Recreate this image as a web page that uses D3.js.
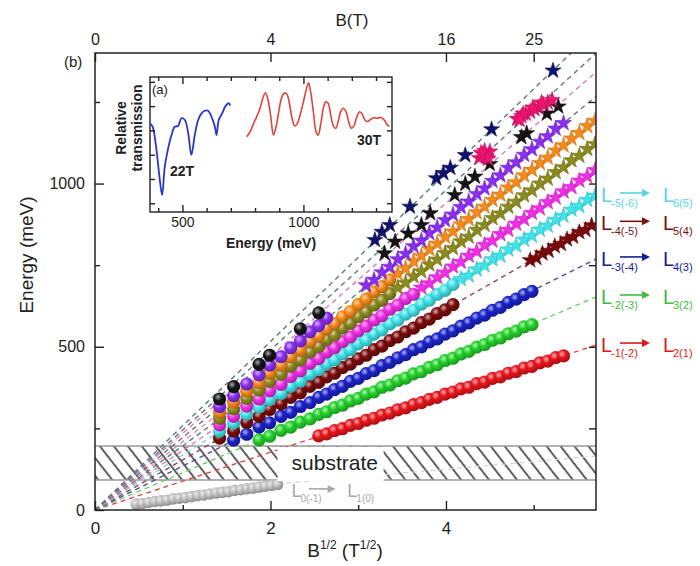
<!DOCTYPE html>
<html>
<head>
<meta charset="utf-8">
<script src="https://cdn.jsdelivr.net/npm/d3@7"></script>
<style>
  body { margin: 0; background: #fff; }
  svg { display: block; font-family: "Liberation Sans", Arial, sans-serif; }
</style>
</head>
<body>
<svg id="chart" width="700" height="566"></svg>
<script>
// ---- data ----
// sqrt(B) columns where the transitions were measured
var fieldX = [1.42, 1.58, 1.73, 1.87, 1.99, 2.12, 2.23, 2.34, 2.45, 2.55, 2.64, 2.73, 2.82, 2.91, 3.00,
  3.09, 3.18, 3.27, 3.36, 3.45, 3.54, 3.63, 3.72, 3.81, 3.90, 3.99, 4.08, 4.17, 4.26, 4.35,
  4.44, 4.53, 4.62, 4.71, 4.80, 4.89, 4.98, 5.07, 5.16, 5.25, 5.34, 5.43, 5.52, 5.61, 5.70];

// fitted slopes of the dashed lines (meV per T^1/2), bottom to top
var lineSlopes = [88.5, 114.3, 134.7, 153.8, 169, 182.4, 196.8, 209.3, 221.9, 235, 245, 258];
var seriesColors = ["#e8141c", "#22d22a", "#1a22c8", "#7a0a0a", "#3fe4ea", "#f02ee6",
  "#8a8a1e", "#f58a1a", "#8a2ef0", "#141414", "#ee1470", "#12126e"];
var lineColors = ["#e04848", "#70cc70", "#4a5298", "#8a4a5a", "#80d8e4", "#e07ab8",
  "#5e7a80", "#e88ab8", "#5e7a80", "#e07ab8", "#5e7a80", "#5e7a80"];

var grayX = [0.47, 0.54, 0.61, 0.68, 0.75, 0.82, 0.89, 0.96, 1.03, 1.10, 1.17, 1.24, 1.31, 1.38,
  1.45, 1.52, 1.59, 1.66, 1.73, 1.80, 1.87, 1.94, 2.01, 2.08];
var grayE = [18, 20, 23, 26, 28, 30, 34, 36, 38, 41, 44, 46, 49, 52, 54, 56, 60, 62, 65, 67, 70, 73, 75, 78];
var grayTail = [[2.08, 80], [5.71, 165]];

var redE = [227, 233, 243, 249, 259, 265, 275, 281, 291, 297, 307, 313, 323, 329, 339, 345, 355, 361,
  371, 376, 387, 392, 403, 408, 419, 424, 435, 440, 451, 456, 467, 472];
var greenE = [215, 226, 244, 254, 269, 279, 293, 301, 314, 321, 334, 342, 355, 362, 376, 383, 396, 404,
  417, 424, 437, 445, 458, 465, 478, 486, 499, 507, 520, 527, 540, 548, 561, 568];
var blueE = [214, 232, 254, 267, 287, 299, 317, 329, 345, 355, 369, 379, 394, 403, 418, 427, 442, 452,
  466, 476, 491, 500, 515, 524, 539, 549, 563, 573, 588, 597, 612, 621, 636, 646, 660, 670];
var maroonE = [220, 242, 268, 287, 308, 325, 345, 359, 379, 391, 408, 419, 436, 447, 463, 474, 491, 502,
  519, 530, 546, 557, 574, 585, 602, 613, 629];
var maroonStarX = [4.96, 5.03, 5.10, 5.17, 5.24, 5.31, 5.38, 5.45, 5.52, 5.59, 5.66];
var maroonStarE = [765, 772, 786, 794, 808, 815, 829, 837, 851, 858, 872];
var cyanE = [242, 266, 294, 315, 338, 357, 379, 394, 416, 430, 448, 460, 478, 491, 509, 521, 539, 552,
  570, 582, 600, 612, 631, 643, 661, 673, 691];
var cyanStarE = [707, 718, 737, 749, 768, 779, 798, 810, 828, 840, 859, 871, 889, 901, 920, 931, 950, 962];
var magentaE = [261, 287, 318, 340, 365, 385, 409, 426, 449, 464, 484, 497, 516, 530, 549, 563, 582, 595,
  615, 628, 648, 661];
var magentaStarE = [681, 694, 713, 727, 746, 760, 779, 792, 812, 825, 845, 858, 877, 891, 910, 924, 943,
  957, 976, 989, 1009, 1022, 1041];
var oliveE = [281, 310, 342, 367, 394, 416, 441, 459, 484, 501, 522, 536, 557, 572, 592, 607, 628, 642, 663];
var oliveStarE = [681, 696, 716, 731, 752, 767, 787, 802, 823, 837, 858, 873, 894, 908, 929, 944, 964, 979,
  1000, 1015, 1035, 1050, 1071, 1085, 1106, 1121];
var orangeE = [299, 330, 364, 390, 419, 443, 469, 489, 515, 533, 555, 571, 592, 608, 630, 646, 668, 684, 705];
var orangeStarE = [724, 740, 762, 778, 799, 816, 837, 853, 875, 891, 912, 929, 950, 966, 988, 1004, 1025,
  1042, 1063, 1079, 1101, 1117, 1138, 1155, 1176, 1192];
var purpleE = [317, 350, 386, 414, 444, 470, 497, 518, 546, 565, 588];
var purpleStarE = [688, 705, 728, 745, 768, 785, 808, 825, 848, 865, 888, 905, 928, 945, 968, 985, 1008,
  1025, 1048, 1065, 1088, 1105, 1128, 1145, 1168, 1185];
var blackX = [1.42, 1.58, 1.87, 1.99, 2.34, 2.55];
var blackE = [340, 378, 446, 474, 555, 604];
var blackStarX = [3.30, 3.42, 3.57, 3.72, 3.82, 4.10, 4.22, 4.33, 4.50, 4.86, 4.92, 5.15, 5.28];
var blackStarE = [786, 822, 847, 873, 909, 965, 999, 1021, 1060, 1142, 1154, 1214, 1236];
var pinkStarX = [4.38, 4.42, 4.46, 4.50, 4.44, 4.48, 4.40, 4.81, 4.86, 4.91, 4.96, 5.01, 5.06, 5.11,
  5.16, 5.21, 4.88, 4.99, 5.09, 4.84];
var pinkStarE = [1078, 1090, 1084, 1098, 1100, 1076, 1094, 1198, 1206, 1214, 1220, 1228, 1234, 1242,
  1248, 1256, 1214, 1233, 1248, 1195];
var navyStarX = [3.19, 3.27, 3.36, 3.59, 3.89, 3.97, 4.05, 4.22, 4.52, 5.22];
var navyStarE = [827, 852, 873, 929, 1016, 1032, 1048, 1087, 1166, 1346];

var substrateBand = [92, 196];

// inset (a): relative transmission spectra
var blueCurveE = [366, 377, 391, 405, 416, 427, 441, 455, 468, 482, 496, 510, 524, 537, 551, 565, 579,
  592, 606, 620, 634, 641, 650, 664, 678, 692, 697];
var blueCurveT = [3.29, 3.15, 2.33, 1.10, 0.34, 1.51, 2.26, 2.81, 3.15, 3.18, 3.50, 3.43, 2.88, 1.99,
  2.81, 3.43, 3.70, 3.81, 3.81, 3.57, 3.15, 2.81, 3.43, 3.70, 4.00, 4.12, 4.03];
var redCurveE = [766, 780, 793, 807, 821, 832, 843, 854, 865, 876, 887, 898, 909, 920, 931, 942, 953,
  964, 975, 986, 1000, 1011, 1021, 1030, 1041, 1052, 1061, 1072, 1083, 1092, 1102, 1113, 1124, 1134,
  1145, 1154, 1165, 1176, 1187, 1198, 1210, 1221, 1232, 1243, 1254, 1265, 1278, 1292, 1306, 1320,
  1334, 1347, 1356];
var redCurveT = [2.74, 2.95, 3.26, 3.57, 3.91, 4.32, 4.55, 4.25, 3.57, 2.81, 3.15, 3.77, 4.32, 4.53,
  4.50, 4.12, 3.50, 3.18, 3.29, 3.63, 4.18, 4.66, 4.96, 4.59, 3.77, 2.95, 2.81, 3.29, 3.95, 4.18,
  4.12, 3.63, 3.18, 3.09, 3.43, 3.77, 3.91, 3.77, 3.36, 3.09, 3.22, 3.57, 3.77, 3.67, 3.43, 3.36,
  3.46, 3.52, 3.50, 3.54, 3.43, 3.22, 3.18];

var xMajor = [0, 2, 4], xMinor = [1, 3, 5];
var yMajor = [0, 500, 1000], yMinor = [250, 750, 1250];
var bTicks = [0, 4, 16, 25];
var insetXTicks = [400, 500, 600, 700, 800, 900, 1000, 1100, 1200, 1300];
var insetXLabels = [500, 1000];
var insetYTicks = [0, 1, 2, 3, 4, 5];

var legendFrom = ["-1(-2)", "-2(-3)", "-3(-4)", "-4(-5)", "-5(-6)"];
var legendTo = ["2(1)", "3(2)", "4(3)", "5(4)", "6(5)"];
var legendColors = ["#e01818", "#3cc03c", "#10209a", "#7a1010", "#5ad4e6"];

// ---- scales ----
var x = d3.scaleLinear().domain([0, 5.71]).range([95, 596]);
var y = d3.scaleLinear().domain([0, 1400]).range([510, 53]);
var xB = d3.scaleSqrt().domain([0, 5.71 * 5.71]).range([95, 596]);

var svg = d3.select("#chart");
var defs = svg.append("defs");

defs.append("clipPath").attr("id", "plotClip")
  .append("rect").attr("x", 95).attr("y", 53).attr("width", 501).attr("height", 457);

var hatch = defs.append("pattern").attr("id", "hatch")
  .attr("patternUnits", "userSpaceOnUse")
  .attr("width", 11).attr("height", 11)
  .attr("patternTransform", "rotate(-38)");
hatch.append("line").attr("x1", 2).attr("y1", 0).attr("x2", 2).attr("y2", 11)
  .attr("stroke", "#2a2a2a").attr("stroke-width", 1.5);

// sphere look for the circles
function ball(col, id) {
  var g = defs.append("radialGradient").attr("id", id)
    .attr("cx", "38%").attr("cy", "35%").attr("r", "65%");
  g.append("stop").attr("offset", "0%").attr("stop-color", d3.interpolateRgb(col, "#fff")(0.65));
  g.append("stop").attr("offset", "45%").attr("stop-color", col);
  g.append("stop").attr("offset", "100%").attr("stop-color", d3.color(col).darker(0.9));
  return "url(#" + id + ")";
}

var plot = svg.append("g").attr("clip-path", "url(#plotClip)");

// substrate band
plot.append("rect")
  .attr("x", x(0)).attr("width", x(5.71) - x(0))
  .attr("y", y(substrateBand[1])).attr("height", y(substrateBand[0]) - y(substrateBand[1]))
  .attr("fill", "url(#hatch)");
substrateBand.forEach(function (e) {
  plot.append("line").attr("x1", x(0)).attr("x2", x(5.71)).attr("y1", y(e)).attr("y2", y(e))
    .attr("stroke", "#999").attr("stroke-width", 1.6);
});

// dashed fit lines from the origin
var line = d3.line().x(function (d) { return x(d[0]); }).y(function (d) { return y(d[1]); });
lineSlopes.forEach(function (s, i) {
  var xe = Math.min(5.71, 1400 / s);
  plot.append("path").attr("d", line([[0, 0], [xe, s * xe]]))
    .attr("fill", "none").attr("stroke", lineColors[i])
    .attr("stroke-width", 1.4).attr("stroke-dasharray", "5,4");
});
plot.append("path").attr("d", line(grayTail))
  .attr("fill", "none").attr("stroke", "#d4d4d4").attr("stroke-width", 1.2).attr("stroke-dasharray", "5,4");

// markers
function pairs(xs, es) { return es.map(function (e, i) { return [xs[i], e]; }); }

function drawCircles(pts, col, id, r) {
  var fill = ball(col, id);
  plot.append("g").selectAll("circle").data(pts).enter().append("circle")
    .attr("cx", function (d) { return x(d[0]); })
    .attr("cy", function (d) { return y(d[1]); })
    .attr("r", r)
    .attr("fill", fill);
}
var star = d3.symbol().type(d3.symbolStar).size(80);
function drawStars(pts, col) {
  plot.append("g").selectAll("path").data(pts).enter().append("path")
    .attr("d", star)
    .attr("transform", function (d) { return "translate(" + x(d[0]) + "," + y(d[1]) + ")"; })
    .attr("fill", col)
    .attr("stroke", d3.color(col).darker(0.6)).attr("stroke-width", 0.6);
}

drawCircles(pairs(grayX, grayE), "#c2c2c2", "gGray", 5.8);
drawCircles(pairs(fieldX.slice(9, 41), redE), seriesColors[0], "g0", 6.6);
drawCircles(pairs(fieldX.slice(3, 37), greenE), seriesColors[1], "g1", 6.6);
drawCircles(pairs(fieldX.slice(1, 37), blueE), seriesColors[2], "g2", 6.6);
drawCircles(pairs(fieldX.slice(0, 27), maroonE), seriesColors[3], "g3", 6.6);
drawCircles(pairs(fieldX.slice(0, 27), cyanE), seriesColors[4], "g4", 6.6);
drawCircles(pairs(fieldX.slice(0, 22), magentaE), seriesColors[5], "g5", 6.6);
drawCircles(pairs(fieldX.slice(0, 19), oliveE), seriesColors[6], "g6", 6.6);
drawCircles(pairs(fieldX.slice(0, 19), orangeE), seriesColors[7], "g7", 6.6);
drawCircles(pairs(fieldX.slice(0, 11), purpleE), seriesColors[8], "g8", 6.6);
drawCircles(pairs(blackX, blackE), seriesColors[9], "g9", 6.6);

drawStars(pairs(maroonStarX, maroonStarE), seriesColors[3]);
drawStars(pairs(fieldX.slice(27, 45), cyanStarE), seriesColors[4]);
drawStars(pairs(fieldX.slice(22, 45), magentaStarE), seriesColors[5]);
drawStars(pairs(fieldX.slice(19, 45), oliveStarE), seriesColors[6]);
drawStars(pairs(fieldX.slice(19, 45), orangeStarE), seriesColors[7]);
drawStars(pairs(fieldX.slice(15, 41), purpleStarE), seriesColors[8]);
drawStars(pairs(blackStarX, blackStarE), seriesColors[9]);
drawStars(pairs(pinkStarX, pinkStarE), seriesColors[10]);
drawStars(pairs(navyStarX, navyStarE), seriesColors[11]);

// "substrate" label box
svg.append("rect").attr("x", x(2.08)).attr("width", x(3.29) - x(2.08))
  .attr("y", y(substrateBand[1]) + 1).attr("height", y(substrateBand[0]) - y(substrateBand[1]))
  .attr("fill", "#fff");
svg.append("text").attr("x", x(2.24)).attr("y", y(144) + 7)
  .attr("font-size", 21).attr("fill", "#222").text("substrate");

// arrow label helper: L_a -> L_b
function transitionLabel(x0, base, from, to, col, big) {
  var g = svg.append("g").attr("fill", col);
  var sub = Math.round(big * 0.55);
  g.append("text").attr("x", x0).attr("y", base).attr("font-size", big).text("L");
  g.append("text").attr("x", x0 + big * 0.5).attr("y", base + 5).attr("font-size", sub).text(from);
  var a0 = x0 + big * 0.95, a1 = x0 + big * 2.45, ay = base - big * 0.45;
  g.append("line").attr("x1", a0).attr("x2", a1 - 6).attr("y1", ay).attr("y2", ay)
    .attr("stroke", col).attr("stroke-width", 1.6);
  g.append("path").attr("d", "M" + a1 + "," + ay + "L" + (a1 - 8) + "," + (ay - 4) + "L" + (a1 - 8) + "," + (ay + 4) + "Z");
  g.append("text").attr("x", x0 + big * 3.1).attr("y", base).attr("font-size", big).text("L");
  g.append("text").attr("x", x0 + big * 3.6).attr("y", base + 5).attr("font-size", sub).text(to);
}
transitionLabel(x(2.24), 497, "0(-1)", "1(0)", "#a8a8a8", 18);

// frame and axes
svg.append("rect").attr("x", 95).attr("y", 53).attr("width", 501).attr("height", 457)
  .attr("fill", "none").attr("stroke", "#222").attr("stroke-width", 1.5);

function styleAxis(g, size) {
  g.attr("font-family", null).attr("font-size", size);
  g.select(".domain").remove();
  g.selectAll(".tick line").attr("stroke", "#222").attr("stroke-width", 1.4);
  g.selectAll(".tick text").attr("fill", "#222");
}
svg.append("g").attr("transform", "translate(0," + y(0) + ")")
  .call(d3.axisBottom(x).tickValues(xMajor).tickSize(-9).tickPadding(12).tickFormat(d3.format("d")))
  .call(styleAxis, 17);
svg.append("g").attr("transform", "translate(0," + y(0) + ")")
  .call(d3.axisBottom(x).tickValues(xMinor).tickSize(-5).tickFormat(""))
  .call(styleAxis, 17);
svg.append("g").attr("transform", "translate(" + x(0) + ",0)")
  .call(d3.axisLeft(y).tickValues(yMajor).tickSize(-9).tickPadding(10).tickFormat(d3.format("d")))
  .call(styleAxis, 16);
svg.append("g").attr("transform", "translate(" + x(0) + ",0)")
  .call(d3.axisLeft(y).tickValues(yMinor).tickSize(-5).tickFormat(""))
  .call(styleAxis, 16);
svg.append("g").attr("transform", "translate(" + x(5.71) + ",0)")
  .call(d3.axisRight(y).tickValues(yMajor.concat(yMinor).slice(1)).tickSize(-7).tickFormat(""))
  .call(styleAxis, 16);
svg.append("g").attr("transform", "translate(0," + y(1400) + ")")
  .call(d3.axisTop(xB).tickValues(bTicks).tickSize(-9).tickPadding(8).tickFormat(d3.format("d")))
  .call(styleAxis, 16);

svg.append("text").attr("x", 352).attr("y", 26).attr("text-anchor", "middle")
  .attr("font-size", 17).attr("fill", "#222").text("B(T)");
svg.append("text").attr("x", 64).attr("y", 67).attr("font-size", 15).attr("fill", "#222").text("(b)");
svg.append("text").attr("transform", "translate(33,255) rotate(-90)").attr("text-anchor", "middle")
  .attr("font-size", 19).attr("fill", "#222").text("Energy (meV)");
var xt = svg.append("text").attr("x", 345).attr("y", 557).attr("text-anchor", "middle")
  .attr("font-size", 19).attr("fill", "#222");
xt.append("tspan").text("B");
xt.append("tspan").attr("font-size", 12).attr("dy", -8).text("1/2");
xt.append("tspan").attr("dy", 8).text(" (T");
xt.append("tspan").attr("font-size", 12).attr("dy", -8).text("1/2");
xt.append("tspan").attr("dy", 8).text(")");

// legend for the first five transitions, next to the line ends
legendFrom.forEach(function (f, i) {
  var base = y(lineSlopes[i] * 5.71) + 7;
  transitionLabel(601, base, f, legendTo[i], legendColors[i], 20);
});

// ---- inset (a) ----
var xi = d3.scaleLinear().domain([366, 1366]).range([150, 392]);
var yi = d3.scaleLinear().domain([-0.36, 5.2]).range([212, 77]);
var inset = svg.append("g");
inset.append("rect").attr("x", 150).attr("y", 77).attr("width", 242).attr("height", 135)
  .attr("fill", "#fff").attr("stroke", "#222").attr("stroke-width", 1.4);

var iLine = d3.line().curve(d3.curveCatmullRom)
  .x(function (d) { return xi(d[0]); }).y(function (d) { return yi(d[1]); });
inset.append("path").attr("d", iLine(pairs(blueCurveE, blueCurveT)))
  .attr("fill", "none").attr("stroke", "#2a36c8").attr("stroke-width", 1.8);
inset.append("path").attr("d", iLine(pairs(redCurveE, redCurveT)))
  .attr("fill", "none").attr("stroke", "#e0423a").attr("stroke-width", 1.6);

function insetTicks(axisFn, tr, vals, len, fmt) {
  inset.append("g").attr("transform", tr)
    .call(axisFn.tickValues(vals).tickSize(-len).tickPadding(5).tickFormat(fmt))
    .call(styleAxis, 14);
}
var noLabel = function () { return ""; };
var minorX = insetXTicks.filter(function (v) { return insetXLabels.indexOf(v) < 0; });
insetTicks(d3.axisBottom(xi), "translate(0,212)", insetXLabels, 7, d3.format("d"));
insetTicks(d3.axisBottom(xi), "translate(0,212)", minorX, 4, noLabel);
insetTicks(d3.axisTop(xi), "translate(0,77)", insetXLabels, 7, noLabel);
insetTicks(d3.axisTop(xi), "translate(0,77)", minorX, 4, noLabel);
insetTicks(d3.axisLeft(yi), "translate(150,0)", insetYTicks, 5, noLabel);
insetTicks(d3.axisRight(yi), "translate(392,0)", insetYTicks, 5, noLabel);

inset.append("text").attr("x", 152).attr("y", 94).attr("font-size", 13).attr("fill", "#222").text("(a)");
inset.append("text").attr("x", 170).attr("y", 176).attr("font-size", 14).attr("font-weight", "bold")
  .attr("fill", "#222").text("22T");
inset.append("text").attr("x", 357).attr("y", 145).attr("font-size", 14).attr("font-weight", "bold")
  .attr("fill", "#222").text("30T");
inset.append("text").attr("x", 271).attr("y", 248).attr("text-anchor", "middle")
  .attr("font-size", 14).attr("font-weight", "bold").attr("fill", "#222").text("Energy (meV)");
inset.append("text").attr("transform", "translate(126,128) rotate(-90)").attr("text-anchor", "middle")
  .attr("font-size", 14).attr("font-weight", "bold").attr("fill", "#222").text("Relative");
inset.append("text").attr("transform", "translate(142,128) rotate(-90)").attr("text-anchor", "middle")
  .attr("font-size", 14).attr("font-weight", "bold").attr("fill", "#222").text("transmission");
</script>
</body>
</html>
